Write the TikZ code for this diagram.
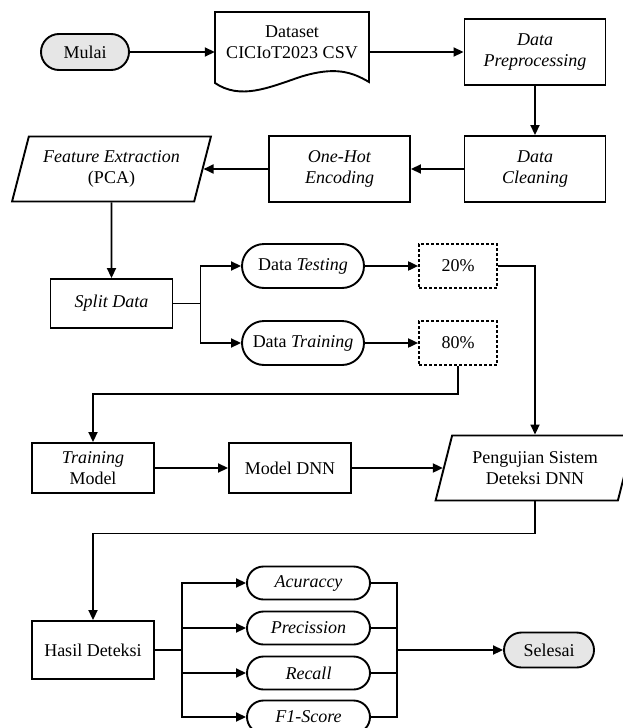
\documentclass[tikz,border=0pt]{standalone}
\usepackage{fontspec}
\setmainfont{Liberation Serif}
\usetikzlibrary{arrows.meta,shapes.geometric}
\definecolor{pillgray}{HTML}{E6E6E6}
\begin{document}
\begin{tikzpicture}[x=1pt,y=-1pt,
  font=\fontsize{18}{21}\selectfont,
  every node/.style={inner sep=0pt, align=center},
  line/.style={line width=1.8pt},
  arr/.style={line width=1.8pt,-{Triangle[length=10pt,width=9pt]}},
  box/.style={draw, line width=1.9pt, minimum width=122pt, minimum height=50pt},
  bigbox/.style={draw, line width=1.9pt, minimum width=141pt, minimum height=66pt},
  pill/.style={draw, line width=1.9pt, rounded corners=#1, minimum height=2*#1},
  dbox/.style={draw, line width=1.7pt, dash pattern=on 3pt off 2pt, minimum width=78pt, minimum height=44pt},
  para/.style={draw, line width=1.9pt, trapezium, trapezium left angle=69.3, trapezium right angle=110.7, trapezium stretches=true, minimum width=199pt, minimum height=65pt}
]
\useasboundingbox (0,0) rectangle (623,728);

% top row
\node[pill=18pt, fill=pillgray, minimum width=88pt] (mulai) at (85,52) {Mulai};
\draw[line width=1.9pt] (215,83) -- (215,12) -- (369,12) -- (369,82)
  .. controls (352,72) and (335,66) .. (300,77)
  .. controls (268,88) and (240,100) .. (215,83) -- cycle;
\node[minimum width=154pt] (ds) at (292,42.5) {Dataset\\CICIoT2023 CSV};
\node[bigbox] (dp) at (535,52) {\textit{Data}\\\textit{Preprocessing}};

% second row
\node[bigbox] (dc) at (535,169) {\textit{Data}\\\textit{Cleaning}};
\node[bigbox] (oh) at (339.5,169) {\textit{One-Hot}\\\textit{Encoding}};
\node[para] (fe) at (111.5,169) {\textit{Feature Extraction}\\(PCA)};

% split
\node[box, minimum height=49pt] (sd) at (111.5,303.5) {\textit{Split Data}};
\node[pill=22pt, minimum width=122pt] (dt) at (303,266) {Data \textit{Testing}};
\node[pill=22pt, minimum width=122pt] (dtr) at (303,343) {Data \textit{Training}};
\node[dbox] (p20) at (458,266) {20\%};
\node[dbox] (p80) at (458,343) {80\%};

% training row
\node[box] (tm) at (93,468) {\textit{Training}\\Model};
\node[box] (dnn) at (290,468) {Model DNN};
\node[para] (pg) at (535,468) {Pengujian Sistem\\Deteksi DNN};

% bottom
\node[box, minimum height=58pt] (hd) at (93,650) {Hasil Deteksi};
\node[pill=16.5pt, minimum width=123pt] (acc) at (308.5,583) {\textit{Acuraccy}};
\node[pill=16.5pt, minimum width=123pt] (pre) at (308.5,628) {\textit{Precission}};
\node[pill=16.5pt, minimum width=123pt] (rec) at (308.5,673) {\textit{Recall}};
\node[pill=16.5pt, minimum width=123pt] (f1) at (308.5,717) {\textit{F1-Score}};
\node[pill=17.5pt, fill=pillgray, minimum width=90pt] (se) at (549,650) {Selesai};
\coordinate (jr) at (397,650);

% connectors
\draw[arr] (mulai.east) -- (mulai.east -| ds.west);
\draw[arr] (ds.east |- dp.west) -- (dp.west);
\draw[arr] (dp.south) -- (dc.north);
\draw[arr] (dc.west) -- (oh.east);
\draw[arr] (oh.west) -- (fe.east);
\draw[arr] (fe.south) -- (sd.north);
\draw[arr] (sd.east) -- ++(27,0) |- (dt.west);
\draw[arr] (sd.east) -- ++(27,0) |- (dtr.west);
\draw[arr] (dt.east) -- (p20.west);
\draw[arr] (dtr.east) -- (p80.west);
\draw[arr] (p20.east) -| (pg.north);
\draw[arr] (p80.south) -- ++(0,28) -| (tm.north);
\draw[arr] (tm.east) -- (dnn.west);
\draw[arr] (dnn.east) -- (pg.west);
\draw[arr] (pg.south) -- ++(0,32) -| (hd.north);
\foreach \p in {acc,pre,rec,f1}{
  \draw[arr] (hd.east) -- ++(27,0) |- (\p.west);
  \draw[line] (\p.east) -| (jr);
}
\draw[arr] (jr) -- (se.west);
\end{tikzpicture}
\end{document}
